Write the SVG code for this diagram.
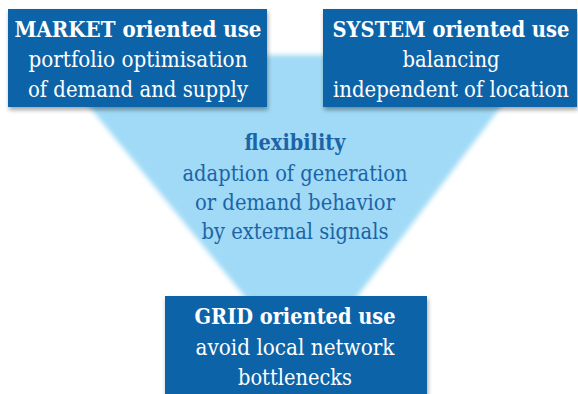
<svg xmlns="http://www.w3.org/2000/svg" width="578" height="394" viewBox="0 0 578 394">
  <defs>
    <filter id="soft" x="-10%" y="-10%" width="120%" height="120%">
      <feGaussianBlur stdDeviation="2.5"/>
    </filter>
    <filter id="shadow" x="-5%" y="-5%" width="115%" height="125%">
      <feDropShadow dx="1" dy="3" stdDeviation="2" flood-color="#000" flood-opacity="0.35"/>
    </filter>
  </defs>
  <style>
    .box { fill: #0b63a8; filter: url(#shadow); }
    text { font-family: 'DejaVu Serif', 'Liberation Serif', serif; font-size: 22.5px; text-anchor: middle; }
    .w { fill: #ffffff; }
    .b { font-weight: bold; }
    .dk { fill: #1c64a6; }
  </style>
  <rect width="578" height="394" fill="#ffffff"/>
  <g id="connectors"></g>
  <g id="flexibility">
    <polygon points="47,55 540,55 303,368" fill="#a0daf6" filter="url(#soft)"/>
    <text class="b dk" x="295" y="150" textLength="101" lengthAdjust="spacingAndGlyphs">flexibility</text>
    <text class="dk" x="295" y="181" textLength="225" lengthAdjust="spacingAndGlyphs">adaption of generation</text>
    <text class="dk" x="295" y="210" textLength="200" lengthAdjust="spacingAndGlyphs">or demand behavior</text>
    <text class="dk" x="295" y="239" textLength="187" lengthAdjust="spacingAndGlyphs">by external signals</text>
  </g>
  <g id="market">
    <rect class="box" x="8" y="9" width="259" height="98"/>
    <text class="b w" x="138" y="37" textLength="247" lengthAdjust="spacingAndGlyphs">MARKET oriented use</text>
    <text class="w" x="138" y="67" textLength="219" lengthAdjust="spacingAndGlyphs">portfolio optimisation</text>
    <text class="w" x="138" y="97" textLength="220" lengthAdjust="spacingAndGlyphs">of demand and supply</text>
  </g>
  <g id="system">
    <rect class="box" x="323" y="9" width="254" height="98"/>
    <text class="b w" x="451" y="37" textLength="237" lengthAdjust="spacingAndGlyphs">SYSTEM oriented use</text>
    <text class="w" x="451" y="67" textLength="97" lengthAdjust="spacingAndGlyphs">balancing</text>
    <text class="w" x="451" y="97" textLength="236" lengthAdjust="spacingAndGlyphs">independent of location</text>
  </g>
  <g id="grid">
    <rect class="box" x="165" y="296" width="262" height="110"/>
    <text class="b w" x="295" y="324" textLength="201" lengthAdjust="spacingAndGlyphs">GRID oriented use</text>
    <text class="w" x="295" y="355" textLength="199" lengthAdjust="spacingAndGlyphs">avoid local network</text>
    <text class="w" x="295" y="385" textLength="114" lengthAdjust="spacingAndGlyphs">bottlenecks</text>
  </g>
</svg>
